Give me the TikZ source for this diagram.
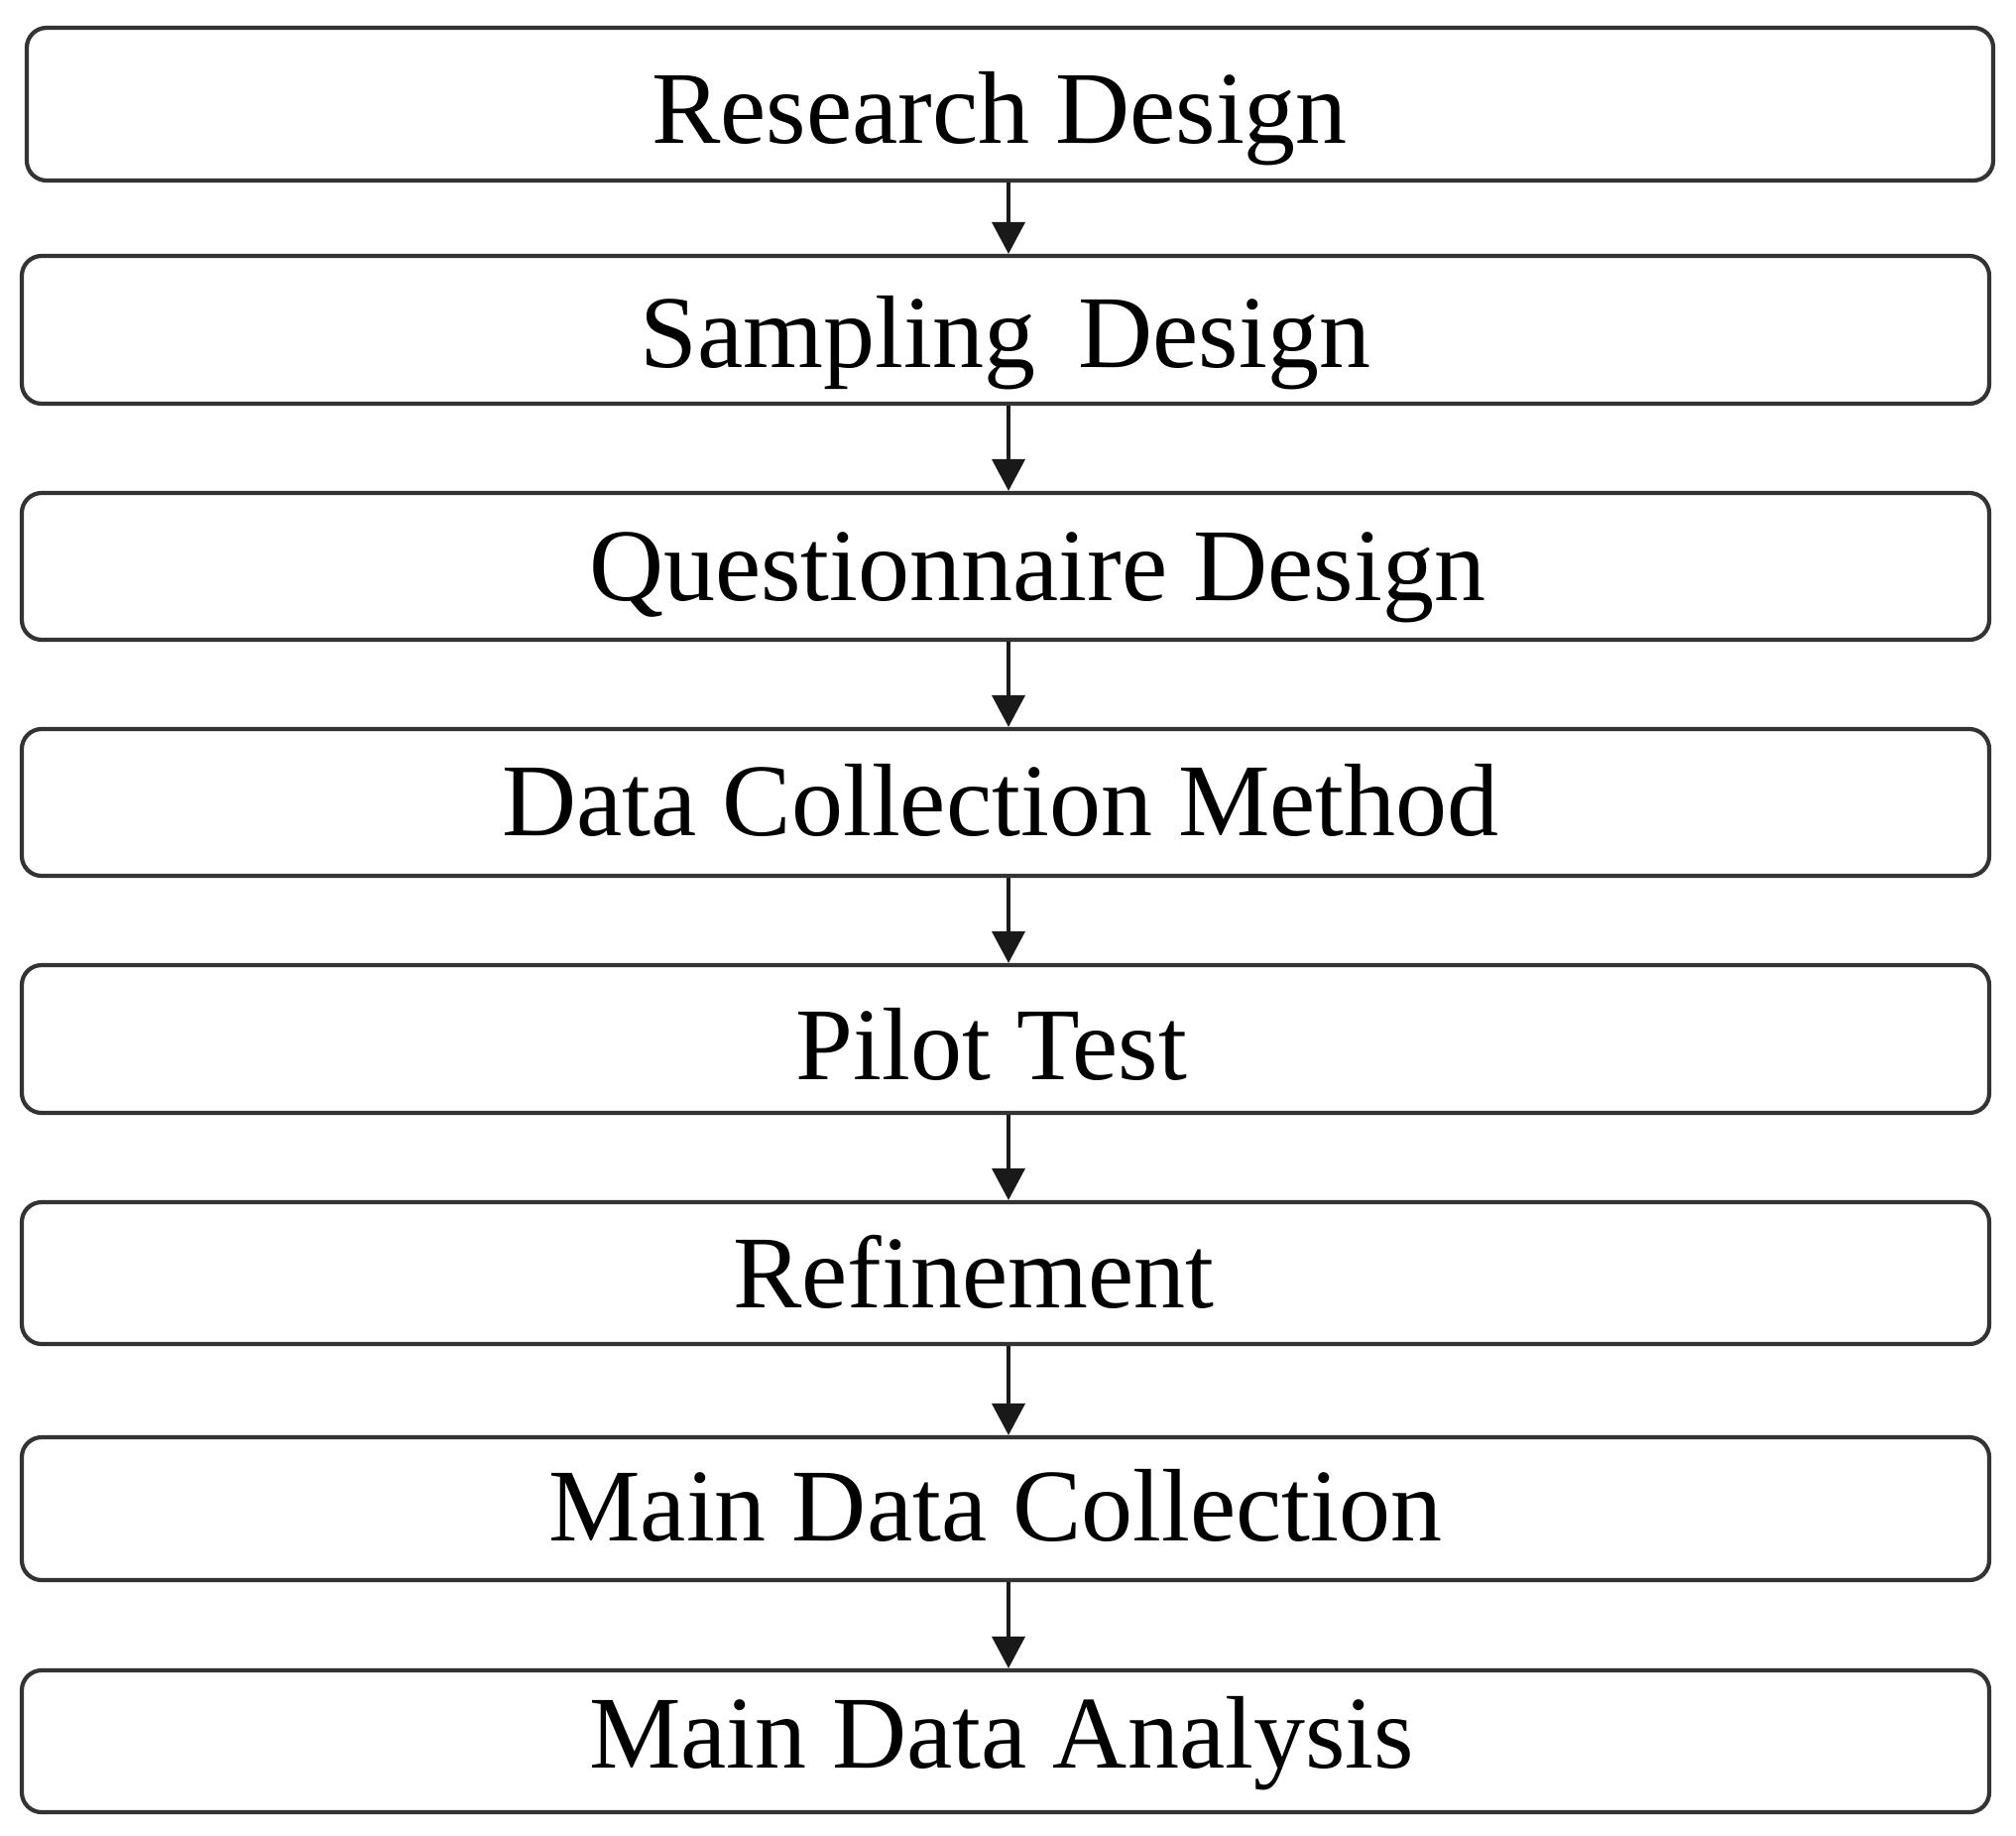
\documentclass[tikz,border=0pt]{standalone}
\usepackage{fontspec}
\setmainfont{Liberation Serif}
\usetikzlibrary{arrows.meta}
\begin{document}
\begin{tikzpicture}[x=0.5pt,y=-0.5pt,
  box/.style={draw=black!80, line width=2.1pt, rounded corners=10pt, inner sep=0pt, minimum width=992pt},
  lbl/.style={anchor=base, inner sep=0pt, font=\fontsize{52}{60}\selectfont},
  arr/.style={draw=black!90, line width=2pt, -{Triangle[width=16.5pt,length=16pt]}}]
\useasboundingbox (0,0) rectangle (2033,1851);
\fill[white] (0,0) rectangle (2033,1851);
\node[box, minimum width=991.5pt, minimum height=77pt] (b1) at (1018.5,105) {};
\node[box, minimum height=74.5pt] (b2) at (1014,332.5) {};
\node[box, minimum height=74pt] (b3) at (1014,571) {};
\node[box, minimum height=74pt] (b4) at (1014,809) {};
\node[box, minimum height=74.5pt] (b5) at (1014,1047.5) {};
\node[box, minimum height=71.5pt] (b6) at (1014,1283.5) {};
\node[box, minimum height=72pt] (b7) at (1014,1521) {};
\node[box, minimum height=71.5pt] (b8) at (1014,1755.5) {};
\node[lbl] (t1) at (1008,145) {Research Design};
\node[lbl] (t2) at (1014,370) {Sampling\hspace{21.5pt}Design};
\node[lbl] (t3) at (1046,605) {Questionnaire Design};
\node[lbl] (t4) at (1009,842) {Data Collection Method};
\node[lbl] (t5) at (1000,1088) {Pilot Test};
\node[lbl] (t6) at (982,1318) {Refinement};
\node[lbl] (t7) at (1004,1553) {Main Data Collection};
\node[lbl] (t8) at (1010,1782) {Main Data Analysis};
\coordinate (ax) at (1017,0);
\draw[arr] (b1.south -| ax) -- (b2.north -| ax);
\draw[arr] (b2.south -| ax) -- (b3.north -| ax);
\draw[arr] (b3.south -| ax) -- (b4.north -| ax);
\draw[arr] (b4.south -| ax) -- (b5.north -| ax);
\draw[arr] (b5.south -| ax) -- (b6.north -| ax);
\draw[arr] (b6.south -| ax) -- (b7.north -| ax);
\draw[arr] (b7.south -| ax) -- (b8.north -| ax);
\end{tikzpicture}
\end{document}
